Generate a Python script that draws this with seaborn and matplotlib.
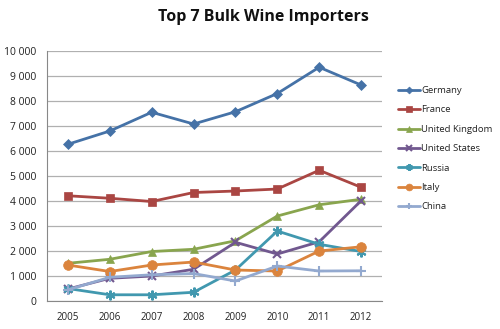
import matplotlib
matplotlib.use("Agg")
import matplotlib.pyplot as plt
import matplotlib.ticker as mticker
import seaborn as sns
import pandas as pd

years = ["2005", "2006", "2007", "2008", "2009", "2010", "2011", "2012"]
germany = [6270, 6800, 7550, 7080, 7570, 8300, 9350, 8640]
france = [4210, 4110, 3980, 4340, 4400, 4480, 5230, 4550]
united_kingdom = [1510, 1670, 1980, 2070, 2410, 3400, 3850, 4070]
united_states = [480, 910, 1000, 1270, 2350, 1880, 2370, 4010]
russia = [500, 250, 250, 350, 1240, 2800, 2270, 1980]
italy = [1440, 1180, 1440, 1560, 1240, 1200, 2000, 2170]
china = [450, 950, 1050, 1100, 800, 1400, 1200, 1210]

countries = ["Germany", "France", "United Kingdom", "United States",
             "Russia", "Italy", "China"]
series = [germany, france, united_kingdom, united_states, russia, italy, china]

colors = ["#4572A7", "#AA4643", "#89A54E", "#71588F", "#4198AF", "#DB843D", "#93A9CF"]
marker_shapes = ["D", "s", "^", "x", (6, 2, 0), "o", "+"]
marker_sizes = [5, 6, 6, 6, 7, 7, 7]

df = pd.DataFrame(
    [(c, i, y, v) for c, vals in zip(countries, series)
     for i, (y, v) in enumerate(zip(years, vals))],
    columns=["country", "pos", "year", "volume"],
)

sns.set_style("white")
plt.rcParams["font.family"] = ["Open Sans", "DejaVu Sans"]

fig = plt.figure(figsize=(5.0, 3.29), dpi=100)
ax = fig.add_axes([0.094, 0.085, 0.670, 0.76])

for c, col, m, ms in zip(countries, colors, marker_shapes, marker_sizes):
    sub = df[df["country"] == c]
    sns.lineplot(data=sub, x="pos", y="volume", ax=ax, color=col, linewidth=2,
                 marker=m, markersize=ms, markeredgecolor=col,
                 markeredgewidth=1.5 if m in ("x", "+") or isinstance(m, tuple) else 0.5,
                 label=c, sort=False)

ax.set_xlim(-0.5, 7.5)
ax.set_ylim(0, 10000)
ax.set_xticks(range(len(years)))
ax.set_xticklabels(years)
ax.xaxis.set_minor_locator(mticker.FixedLocator([i - 0.5 for i in range(len(years) + 1)]))
ax.tick_params(axis="x", which="major", length=0, labelsize=7, pad=8, colors="#222222")
ax.tick_params(axis="x", which="minor", length=4, color="#888888", width=0.8)
ax.set_yticks(range(0, 10001, 1000))
ax.yaxis.set_major_formatter(mticker.FuncFormatter(lambda v, p: f"{int(v):,}".replace(",", " ")))
ax.tick_params(axis="y", length=4, color="#888888", width=0.8, labelsize=7.5)
for lbl in ax.get_yticklabels():
    lbl.set_color("#222222")
ax.grid(axis="y", color="#b0b0b0", linewidth=0.9)
ax.set_axisbelow(True)
for s in ["top", "right"]:
    ax.spines[s].set_visible(False)
for s in ["left", "bottom"]:
    ax.spines[s].set_color("#888888")
    ax.spines[s].set_linewidth(0.8)
ax.set_xlabel("")
ax.set_ylabel("")

leg = ax.legend(loc="upper left", bbox_to_anchor=(1.035, 0.875), frameon=False,
                fontsize=6.8, handlelength=2.4, handletextpad=0.1, markerscale=0.7,
                labelspacing=1.1, borderaxespad=0)
for t in leg.get_texts():
    t.set_color("#222222")

fig.text(0.527, 0.948, "Top 7 Bulk Wine Importers", ha="center", va="center",
         fontsize=11.5, fontweight="bold", color="#111111")

fig.savefig("out.png", dpi=100)
